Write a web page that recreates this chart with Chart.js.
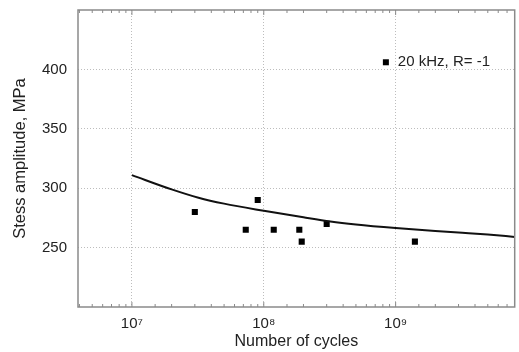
<!DOCTYPE html>
<html>
<head>
<meta charset="utf-8">
<script src="https://cdn.jsdelivr.net/npm/chart.js@4"></script>
<style>
  html, body { margin: 0; padding: 0; background: #fff; }
  #wrap { width: 519px; height: 352px; }
</style>
</head>
<body>
<div id="wrap"><canvas id="chart"></canvas></div>
<script>
// measured points (cycles, MPa)
var testCycles = [3.0e7, 7.3e7, 9.0e7, 1.19e8, 1.86e8, 1.94e8, 3.0e8, 1.4e9];
var testStress = [280, 265, 290, 265, 265, 255, 270, 255];

// fitted curve
var fitCycles = [1e7, 2e7, 3.2e7, 5e7, 1e8, 2e8, 3.2e8, 5e8, 1e9, 2e9, 3.2e9, 5e9, 8e9];
var fitStress = [311, 299, 292, 287, 281, 275.5, 272, 269.5, 266.5, 264, 262.5, 261, 259];

var yTicks = [250, 300, 350, 400];
var legendText = "20 kHz, R= -1";

var sup = { "6": "\u2076", "7": "\u2077", "8": "\u2078", "9": "\u2079" };
var fontFam = "'Liberation Sans', Arial, sans-serif";

function isPow10(v) {
  var l = Math.log10(v);
  return Math.abs(l - Math.round(l)) < 1e-9;
}

// frame, inner minor ticks and the inset legend
var framePlugin = {
  id: "frame",
  afterDatasetsDraw: function (chart) {
    var ctx = chart.ctx;
    var a = chart.chartArea;
    var xs = chart.scales.x;
    ctx.save();
    ctx.strokeStyle = "#8a8a8a";
    ctx.lineWidth = 1.5;
    ctx.strokeRect(a.left, a.top, a.right - a.left, a.bottom - a.top);
    ctx.lineWidth = 1;
    xs.ticks.forEach(function (t) {
      var px = xs.getPixelForValue(t.value);
      if (px <= a.left + 1 || px >= a.right - 1) return;
      var len = isPow10(t.value) ? 5 : 3;
      ctx.beginPath();
      ctx.moveTo(px, a.bottom);
      ctx.lineTo(px, a.bottom - len);
      ctx.moveTo(px, a.top);
      ctx.lineTo(px, a.top + len);
      ctx.stroke();
    });

    // legend
    var lx = a.left + (a.right - a.left) * 0.705;
    var ly = a.top + (a.bottom - a.top) * 0.176;
    ctx.fillStyle = "#000";
    ctx.fillRect(lx - 3, ly - 3, 6, 6);
    ctx.fillStyle = "#222";
    ctx.font = "15px " + fontFam;
    ctx.textBaseline = "middle";
    ctx.fillText(legendText, lx + 12, ly);
    ctx.restore();
  }
};

var ctx = document.getElementById("chart").getContext("2d");
var myChart = new Chart(ctx, {
  type: "scatter",
  data: {
    datasets: [{
      label: "fit",
      data: fitCycles.map(function (c, i) { return { x: c, y: fitStress[i] }; }),
      showLine: true,
      borderColor: "#111",
      borderWidth: 2,
      pointRadius: 0,
      cubicInterpolationMode: "monotone"
    }, {
      label: legendText,
      data: testCycles.map(function (c, i) { return { x: c, y: testStress[i] }; }),
      pointStyle: "rect",
      pointRadius: 4.3,
      backgroundColor: "#000",
      borderColor: "#000",
      borderWidth: 0
    }]
  },
  options: {
    responsive: true,
    maintainAspectRatio: false,
    animation: false,
    layout: { padding: { top: 10, right: 0, left: 0, bottom: 0 } },
    plugins: {
      legend: { display: false },
      tooltip: { enabled: false }
    },
    scales: {
      x: {
        type: "logarithmic",
        min: 3.9e6,
        max: 8e9,
        border: { display: false, dash: [1, 2] },
        grid: {
          drawTicks: false,
          color: function (c) {
            return c.tick && isPow10(c.tick.value) ? "#bdbdbd" : "rgba(0,0,0,0)";
          },
          lineWidth: 1
        },
        ticks: {
          autoSkip: false,
          maxRotation: 0,
          padding: 8,
          color: "#222",
          font: { family: fontFam, size: 15 },
          callback: function (v) {
            if (!isPow10(v)) return "";
            var e = String(Math.round(Math.log10(v)));
            return "10" + e.split("").map(function (d) { return sup[d]; }).join("");
          }
        },
        title: {
          display: true,
          text: "Number of cycles",
          color: "#222",
          font: { family: fontFam, size: 16 },
          padding: { top: 0, bottom: 1 }
        },
        afterFit: function (s) {
          s.height = 45;
          s.paddingLeft = 0;
          s.paddingRight = 0;
        }
      },
      y: {
        min: 200,
        max: 450,
        border: { display: false, dash: [1, 2] },
        afterBuildTicks: function (s) {
          s.ticks = [200].concat(yTicks, [450]).map(function (v) { return { value: v }; });
        },
        grid: {
          drawTicks: false,
          color: function (c) {
            return c.tick && yTicks.indexOf(c.tick.value) >= 0 ? "#bdbdbd" : "rgba(0,0,0,0)";
          },
          lineWidth: 1
        },
        ticks: {
          padding: 11,
          color: "#222",
          font: { family: fontFam, size: 15 },
          callback: function (v) { return yTicks.indexOf(v) >= 0 ? String(v) : ""; }
        },
        title: {
          display: true,
          text: "Stess amplitude, MPa",
          color: "#222",
          font: { family: fontFam, size: 16.5 },
          padding: { top: 11, bottom: 0 }
        },
        afterFit: function (s) {
          s.width = 78;
          s.paddingTop = 0;
          s.paddingBottom = 0;
        }
      }
    }
  },
  plugins: [framePlugin]
});
</script>
</body>
</html>
